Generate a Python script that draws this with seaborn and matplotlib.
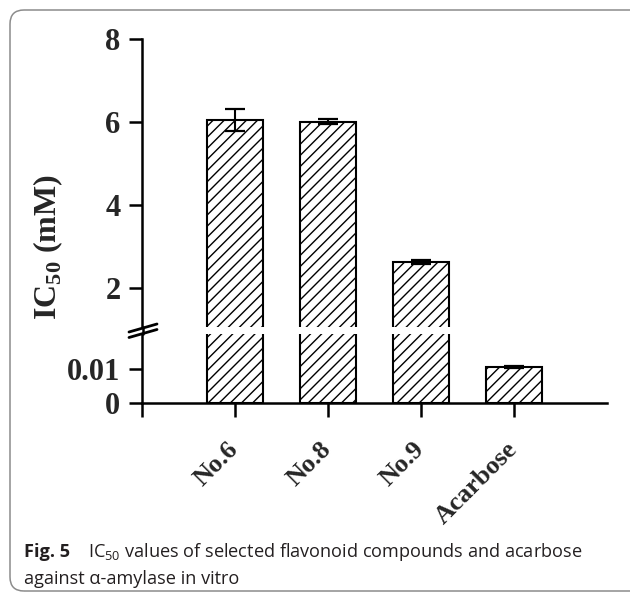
import matplotlib
matplotlib.use("Agg")
import matplotlib.pyplot as plt
import seaborn as sns
import numpy as np
import pandas as pd
from matplotlib.patches import FancyBboxPatch
from matplotlib.lines import Line2D
from matplotlib.transforms import IdentityTransform

# ---- data ----
categories = ["No.6", "No.8", "No.9", "Acarbose"]
ic50_values = [6.04, 6.00, 2.62, 0.0106]
ic50_errors = [0.27, 0.06, 0.04, 0.0002]
upper_ticks = [2, 4, 6, 8]
upper_ticklabels = ["2", "4", "6", "8"]
lower_ticks = [0, 0.01]
lower_ticklabels = ["0", "0.01"]

df = pd.DataFrame({"compound": categories, "ic50": ic50_values})

sns.set_theme(style="white")
plt.rcParams["font.family"] = ["Liberation Serif", "DejaVu Serif"]
plt.rcParams["mathtext.fontset"] = "custom"
plt.rcParams["mathtext.rm"] = "Liberation Serif"
plt.rcParams["mathtext.bf"] = "Liberation Serif:bold"
plt.rcParams["mathtext.sf"] = "Open Sans"
plt.rcParams["hatch.linewidth"] = 1.0
plt.rcParams["hatch.color"] = "black"

W, H = 630, 596
fig = plt.figure(figsize=(W / 100, H / 100), dpi=100)

left = 142 / W
width = (607 - 142) / W
ax_top = fig.add_axes([left, 1 - 327 / H, width, (327 - 39) / H])
ax_bot = fig.add_axes([left, 1 - 403 / H, width, (403 - 334) / H])

spine_lw = 1.8
for ax in (ax_top, ax_bot):
    sns.barplot(data=df, x="compound", y="ic50", ax=ax, color="white",
                saturation=1, edgecolor="black", linewidth=1.5,
                hatch="///", width=0.6, errorbar=None)
    ax.errorbar(np.arange(len(categories)), ic50_values, yerr=ic50_errors,
                fmt="none", ecolor="black", elinewidth=1.5, capsize=7,
                capthick=1.6, zorder=5)
    ax.set_xlim(-1, 4)
    ax.set_xlabel("")
    ax.set_ylabel("")
    ax.set_facecolor("none")
    for s in ("top", "right"):
        ax.spines[s].set_visible(False)
    ax.spines["left"].set_linewidth(spine_lw)
    ax.spines["bottom"].set_linewidth(spine_lw)
    ax.spines["left"].set_color("black")
    ax.spines["bottom"].set_color("black")
    ax.tick_params(axis="y", direction="out", length=9.5, width=spine_lw,
                   color="black", left=True, pad=6, labelsize=22)

ax_top.set_ylim(1.05, 8)
ax_top.spines["bottom"].set_visible(False)
ax_top.set_yticks(upper_ticks)
ax_top.set_yticklabels(upper_ticklabels, fontsize=22, fontweight="bold")
ax_top.tick_params(axis="x", bottom=False, labelbottom=False)

ax_bot.set_ylim(0, 0.0203)
ax_bot.set_yticks(lower_ticks)
ax_bot.set_yticklabels(lower_ticklabels, fontsize=22, fontweight="bold")
ax_bot.set_xticks([-1, 0, 1, 2, 3])
ax_bot.set_xticklabels([""] + categories, fontsize=19, fontweight="bold",
                       rotation=45, ha="right", va="center",
                       rotation_mode="anchor")
ax_bot.tick_params(axis="x", direction="out", length=10, width=spine_lw,
                   color="black", bottom=True, pad=21)

# continuous y axis through the break, plus break marks
yx = 142.5
fig.add_artist(Line2D([yx, yx], [H - 334, H - 327], color="black",
                      lw=spine_lw, transform=IdentityTransform()))
for dy in (0, 5.5):
    fig.add_artist(Line2D([129, 157], [H - 332 - dy, H - 324 - dy],
                          color="black", lw=2.0,
                          transform=IdentityTransform()))

# y label
fig.text(48 / W, 1 - 247 / H, r"IC$_{\mathbf{50}}$ (mM)", rotation=90,
         fontsize=23, fontweight="bold", ha="center", va="center")

# caption frame
frame = FancyBboxPatch((10, H - 591), 660, 581,
                       boxstyle="round,pad=0,rounding_size=14",
                       transform=IdentityTransform(), fill=False,
                       edgecolor="#8c8c8c", lw=1.1)
fig.add_artist(frame)

cap_font = ["Open Sans", "DejaVu Sans"]
cap_size = 13.1
fig.text(24 / W, 1 - 557 / H, "Fig. 5", fontsize=cap_size, fontweight="bold",
         family=cap_font, color="#231f20", ha="left", va="baseline")
fig.text(88 / W, 1 - 557 / H,
         r"IC$_{\mathsf{50}}$ values of selected flavonoid compounds and acarbose",
         fontsize=cap_size, family=cap_font, color="#231f20", ha="left",
         va="baseline")
fig.text(24 / W, 1 - 584 / H, "against α-amylase in vitro", fontsize=cap_size,
         family=cap_font, color="#231f20", ha="left", va="baseline")

fig.savefig("out.png", dpi=100)
